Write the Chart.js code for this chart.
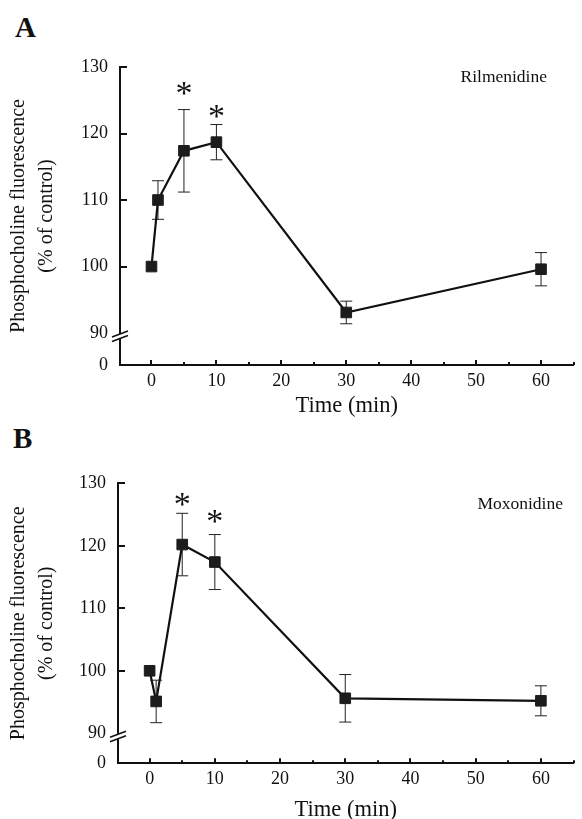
<!DOCTYPE html>
<html>
<head>
<meta charset="utf-8">
<script src="https://cdn.jsdelivr.net/npm/chart.js@4.4.1/dist/chart.umd.min.js"></script>
<style>
  html, body { margin: 0; padding: 0; background: #fff; }
  body { width: 582px; height: 819px; position: relative; overflow: hidden; }
  .wrap { position: absolute; left: 0; width: 582px; }
  .panel { position: absolute; font: bold 29px/29px 'Liberation Serif', 'Times New Roman', serif; color: #111; }
</style>
</head>
<body>
<div class="panel" style="left:15px; top:13px;">A</div>
<div class="panel" style="left:13px; top:424px;">B</div>
<div class="wrap" style="top:0; height:420px;"><canvas id="chartA" width="582" height="420"></canvas></div>
<div class="wrap" style="top:420px; height:399px;"><canvas id="chartB" width="582" height="399"></canvas></div>
<script>
// time points (min)
const timeMin = [0, 1, 5, 10, 30, 60];

// A: Rilmenidine, % of control, with error bars
const rilmenidine = [100, 110, 117.4, 118.7, 93.1, 99.6];
const rilmenidineErr = [0, 2.9, 6.2, 2.65, 1.7, 2.5];
const rilStarX = [5, 10];
const rilStarY = [126.8, 123.3];

// B: Moxonidine
const moxonidine = [100, 95.1, 120.2, 117.4, 95.6, 95.2];
const moxonidineErr = [0, 3.4, 5.0, 4.4, 3.8, 2.4];
const moxStarX = [5, 10];
const moxStarY = [127.4, 124.7];

const xTicks = [0, 10, 20, 30, 40, 50, 60];
const yTicks = [90, 100, 110, 120, 130];
const yBreakLabel = '0';
const yMin = 85.2;

const serif = "'Liberation Serif', 'Times New Roman', serif";
const ink = '#111';

// error bars under the line and markers
const errorBars = {
    id: 'errorBars',
    beforeDatasetsDraw(chart, args, opts) {
        const { ctx, scales: { x, y } } = chart;
        ctx.save();
        ctx.strokeStyle = '#222';
        ctx.lineWidth = 1;
        ctx.beginPath();
        opts.err.forEach((e, i) => {
            if (!e) return;
            const px = x.getPixelForValue(timeMin[i]);
            const top = y.getPixelForValue(opts.values[i] + e);
            const bot = y.getPixelForValue(opts.values[i] - e);
            ctx.moveTo(px, top); ctx.lineTo(px, bot);
            ctx.moveTo(px - 6, top); ctx.lineTo(px + 6, top);
            ctx.moveTo(px - 6, bot); ctx.lineTo(px + 6, bot);
        });
        ctx.stroke();
        ctx.restore();
    }
};

// inward ticks, axis break, asterisks and drug label
const decor = {
    id: 'decor',
    afterDraw(chart, args, opts) {
        const { ctx, scales: { x, y }, chartArea: a } = chart;
        ctx.save();
        ctx.strokeStyle = ink;
        ctx.lineWidth = 2;
        ctx.beginPath();
        y.ticks.forEach(t => {
            if (t.value <= 90) return;
            const py = Math.round(y.getPixelForValue(t.value));
            ctx.moveTo(a.left, py); ctx.lineTo(a.left + 7, py);
        });
        x.ticks.forEach(t => {
            const px = Math.round(x.getPixelForValue(t.value));
            ctx.moveTo(px, a.bottom); ctx.lineTo(px, a.bottom - 5);
        });
        for (let v = 5; v <= x.max; v += 10) {
            const px = Math.round(x.getPixelForValue(v));
            ctx.moveTo(px, a.bottom); ctx.lineTo(px, a.bottom - 3);
        }
        ctx.stroke();

        // axis break "//"
        const by = y.getPixelForValue(90) + 3;
        const L = a.left;
        ctx.fillStyle = '#fff';
        ctx.beginPath();
        ctx.moveTo(L - 8, by + 1); ctx.lineTo(L + 8, by - 5);
        ctx.lineTo(L + 8, by - 0.5); ctx.lineTo(L - 8, by + 5.5);
        ctx.closePath();
        ctx.fill();
        ctx.lineWidth = 1.6;
        ctx.beginPath();
        ctx.moveTo(L - 8, by + 1); ctx.lineTo(L + 8, by - 5);
        ctx.moveTo(L - 8, by + 5.5); ctx.lineTo(L + 8, by - 0.5);
        ctx.stroke();

        ctx.fillStyle = ink;
        ctx.textAlign = 'center';
        ctx.textBaseline = 'middle';
        ctx.font = '34px ' + serif;
        opts.starX.forEach((sx, i) => {
            ctx.fillText('*', x.getPixelForValue(sx), y.getPixelForValue(opts.starY[i]) + 7);
        });
        ctx.font = '17.5px ' + serif;
        ctx.textAlign = 'right';
        ctx.fillText(opts.label, opts.labelX, opts.labelY);
        ctx.restore();
    }
};

function makeChart(id, values, err, starX, starY, label, cfg) {
    const ctx = document.getElementById(id).getContext('2d');
    return new Chart(ctx, {
        type: 'scatter',
        data: {
            datasets: [{
                label: label,
                data: timeMin.map((t, i) => ({ x: t, y: values[i] })),
                showLine: true,
                borderColor: ink,
                borderWidth: 2.2,
                backgroundColor: '#1c1c1c',
                pointBorderColor: '#1c1c1c',
                pointBorderWidth: 1,
                pointStyle: 'rect',
                pointRadius: 7.5,
                pointHoverRadius: 7.5
            }]
        },
        options: {
            responsive: false,
            animation: false,
            layout: { padding: { top: cfg.top, right: cfg.right, left: 0, bottom: 0 } },
            scales: {
                x: {
                    type: 'linear',
                    min: -4.85,
                    max: 65,
                    afterBuildTicks: s => { s.ticks = xTicks.map(v => ({ value: v })); },
                    afterFit: s => { s.height = cfg.xHeight; },
                    grid: { display: false, drawTicks: false },
                    border: { display: true, color: ink, width: 2 },
                    ticks: { color: ink, padding: 5, font: { family: serif, size: 18 } },
                    title: {
                        display: true,
                        text: 'Time (min)',
                        color: ink,
                        font: { family: serif, size: 22.5, lineHeight: cfg.xTitleLH },
                        padding: { top: 0, bottom: cfg.xTitlePad }
                    }
                },
                y: {
                    type: 'linear',
                    min: yMin,
                    max: 130,
                    afterBuildTicks: s => { s.ticks = [yMin].concat(yTicks).map(v => ({ value: v })); },
                    afterFit: s => { s.width = cfg.left; },
                    grid: { display: false, drawTicks: false },
                    border: { display: true, color: ink, width: 2 },
                    ticks: {
                        color: ink,
                        padding: 12,
                        font: { family: serif, size: 18 },
                        callback: v => (v < 90 ? yBreakLabel : v)
                    },
                    title: {
                        display: true,
                        text: ['Phosphocholine fluorescence', '(% of control)'],
                        color: ink,
                        font: { family: serif, size: 20, lineHeight: 1.4 },
                        padding: { top: 5, bottom: 0 }
                    }
                }
            },
            plugins: {
                legend: { display: false },
                tooltip: { enabled: false },
                errorBars: { values: values, err: err },
                decor: { starX: starX, starY: starY, label: label, labelX: cfg.labelX, labelY: cfg.labelY }
            }
        },
        plugins: [errorBars, decor]
    });
}

makeChart('chartA', rilmenidine, rilmenidineErr, rilStarX, rilStarY, 'Rilmenidine',
    { top: 67, right: 3, left: 120, xHeight: 55, xTitleLH: 1.2, xTitlePad: 0, labelX: 547, labelY: 77 });
makeChart('chartB', moxonidine, moxonidineErr, moxStarX, moxStarY, 'Moxonidine',
    { top: 63.3, right: 0, left: 118, xHeight: 55.7, xTitleLH: 0.8, xTitlePad: 0, labelX: 563, labelY: 84 });
</script>
</body>
</html>
